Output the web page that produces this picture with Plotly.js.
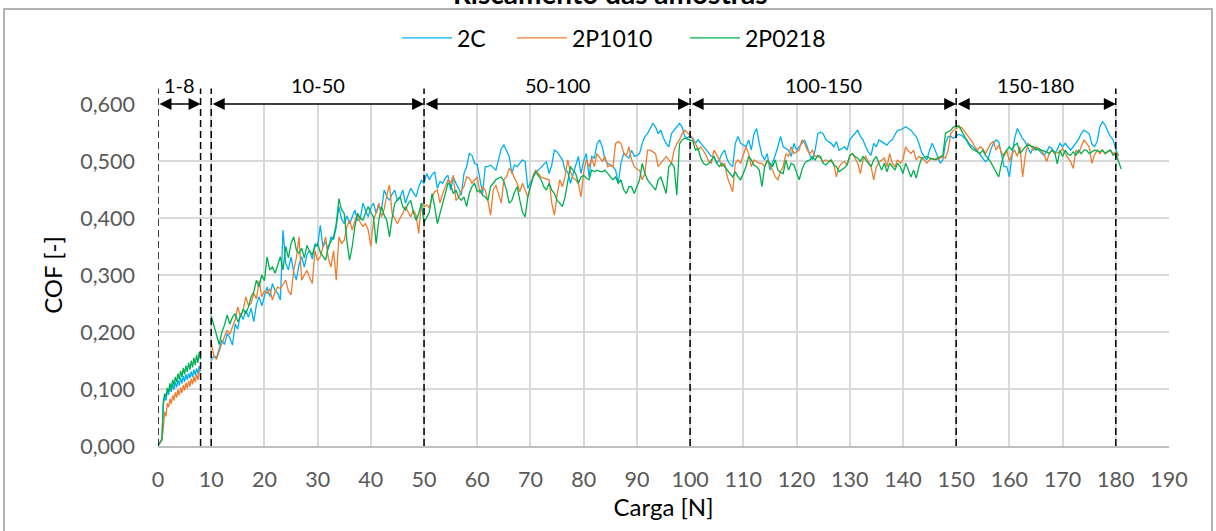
<!DOCTYPE html>
<html><head><meta charset="utf-8">
<script src="https://cdn.plot.ly/plotly-3.0.1.min.js"></script>
<style>html,body{margin:0;padding:0;background:#fff}#chart{width:1216px;height:531px}</style>
</head><body><div id="chart"></div>
<script>
// Carga [N] sample positions per test segment
const cargaA = [0,0.25,0.5,0.75,1,1.25,1.5,1.75,2,2.25,2.5,2.75,3,3.25,3.5,3.75,4,4.25,4.5,4.75,5,5.25,5.5,5.75,6,6.25,6.5,6.75,7,7.25,7.5,7.75,8];
const cargaB = [10,10.5,11,11.5,12,12.5,13,13.5,14,14.5,
15,15.5,16,16.5,17,17.5,18,18.5,19,19.5,
20,20.5,21,21.5,22,22.5,23,23.5,24,24.5,
25,25.5,26,26.5,27,27.5,28,28.5,29,29.5,
30,30.5,31,31.5,32,32.5,33,33.5,34,34.5,
35,35.5,36,36.5,37,37.5,38,38.5,39,39.5,
40,40.5,41,41.5,42,42.5,43,43.5,44,44.5,
45,45.5,46,46.5,47,47.5,48,48.5,49,49.5,
50];
const cargaC = [50.5,51,51.5,52,52.5,53,53.5,54,54.5,55,
55.5,56,56.5,57,57.5,58,58.5,59,59.5,60,
60.5,61,61.5,62,62.5,63,63.5,64,64.5,65,
65.5,66,66.5,67,67.5,68,68.5,69,69.5,70,
70.5,71,71.5,72,72.5,73,73.5,74,74.5,75,
75.5,76,76.5,77,77.5,78,78.5,79,79.5,80,
80.5,81,81.5,82,82.5,83,83.5,84,84.5,85,
85.5,86,86.5,87,87.5,88,88.5,89,89.5,90,
90.5,91,91.5,92,92.5,93,93.5,94,94.5,95,
95.5,96,96.5,97,97.5,98,98.5,99,99.5,100];
const cargaD = [100.5,101,101.5,102,102.5,103,103.5,104,104.5,105,
105.5,106,106.5,107,107.5,108,108.5,109,109.5,110,
110.5,111,111.5,112,112.5,113,113.5,114,114.5,115,
115.5,116,116.5,117,117.5,118,118.5,119,119.5,120,
120.5,121,121.5,122,122.5,123,123.5,124,124.5,125,
125.5,126,126.5,127,127.5,128,128.5,129,129.5,130,
130.5,131,131.5,132,132.5,133,133.5,134,134.5,135,
135.5,136,136.5,137,137.5,138,138.5,139,139.5,140,
140.5,141,141.5,142,142.5,143,143.5,144,144.5,145,
145.5,146,146.5,147,147.5,148,148.5,149,149.5,150];
const cargaE = [150.5,151,151.5,152,152.5,153,153.5,154,154.5,155,
155.5,156,156.5,157,157.5,158,158.5,159,159.5,160,
160.5,161,161.5,162,162.5,163,163.5,164,164.5,165,
165.5,166,166.5,167,167.5,168,168.5,169,169.5,170,
170.5,171,171.5,172,172.5,173,173.5,174,174.5,175,
175.5,176,176.5,177,177.5,178,178.5,179,179.5,180,
180.5,181];

// COF, series 2C
const cof2C_A = [0.000,0.004,0.008,0.012,0.072,0.086,0.080,0.096,0.090,0.103,0.095,0.108,0.099,0.112,0.103,0.116,0.106,0.120,0.110,0.123,0.113,0.126,0.116,0.128,0.119,0.131,0.121,0.134,0.124,0.136,0.127,0.140,0.131];
const cof2C_B = [0.150,0.158,0.155,0.172,0.186,0.178,0.197,0.190,0.177,0.214,
0.205,0.233,0.222,0.238,0.226,0.242,0.218,0.248,0.262,0.246,
0.265,0.279,0.262,0.285,0.272,0.268,0.256,0.379,0.320,0.309,
0.332,0.305,0.291,0.318,0.332,0.314,0.336,0.343,0.328,0.355,
0.350,0.387,0.349,0.358,0.345,0.367,0.362,0.384,0.420,0.398,
0.390,0.404,0.390,0.402,0.414,0.396,0.398,0.426,0.412,0.402,
0.418,0.426,0.408,0.422,0.414,0.449,0.438,0.431,0.442,0.449,
0.430,0.437,0.449,0.426,0.440,0.452,0.444,0.437,0.455,0.466,
0.461];
const cof2C_C = [0.478,0.467,0.476,0.481,0.452,0.464,0.461,0.470,0.475,0.449,
0.472,0.461,0.452,0.440,0.478,0.490,0.513,0.510,0.496,0.493,
0.470,0.443,0.490,0.490,0.493,0.488,0.484,0.502,0.522,0.528,
0.518,0.508,0.478,0.493,0.490,0.496,0.502,0.499,0.452,0.462,
0.472,0.481,0.484,0.490,0.494,0.499,0.478,0.493,0.519,0.516,
0.508,0.502,0.484,0.481,0.461,0.476,0.490,0.508,0.478,0.500,
0.513,0.472,0.508,0.505,0.530,0.537,0.525,0.502,0.496,0.493,
0.490,0.484,0.461,0.496,0.513,0.509,0.505,0.519,0.508,0.510,
0.513,0.531,0.543,0.548,0.558,0.566,0.560,0.548,0.554,0.540,
0.531,0.525,0.548,0.554,0.562,0.566,0.560,0.543,0.540,0.545];
const cof2C_D = [0.540,0.531,0.537,0.531,0.524,0.519,0.513,0.508,0.508,0.496,
0.502,0.513,0.519,0.502,0.494,0.490,0.531,0.543,0.531,0.528,
0.525,0.537,0.519,0.548,0.557,0.531,0.510,0.502,0.513,0.484,
0.496,0.510,0.525,0.543,0.525,0.522,0.519,0.508,0.531,0.519,
0.525,0.531,0.537,0.525,0.510,0.502,0.519,0.548,0.551,0.548,
0.538,0.534,0.531,0.525,0.534,0.519,0.522,0.525,0.519,0.537,
0.543,0.549,0.554,0.543,0.537,0.525,0.516,0.510,0.531,0.525,
0.537,0.534,0.531,0.528,0.534,0.537,0.546,0.554,0.554,0.557,
0.560,0.557,0.554,0.548,0.543,0.531,0.515,0.508,0.502,0.519,
0.531,0.520,0.508,0.496,0.502,0.531,0.543,0.543,0.540,0.543];
const cof2C_E = [0.547,0.545,0.541,0.537,0.530,0.526,0.522,0.517,0.511,0.505,
0.499,0.503,0.520,0.531,0.537,0.534,0.510,0.490,0.490,0.472,
0.510,0.540,0.557,0.548,0.539,0.533,0.522,0.513,0.525,0.522,
0.519,0.514,0.510,0.516,0.525,0.522,0.513,0.520,0.531,0.525,
0.531,0.525,0.519,0.525,0.531,0.538,0.548,0.554,0.551,0.548,
0.530,0.525,0.534,0.560,0.569,0.563,0.552,0.543,0.537,0.520,
0.510,null];

// COF, series 2P1010
const cof2P1010_A = [0.000,0.003,0.007,0.010,0.032,0.060,0.052,0.075,0.068,0.083,0.074,0.089,0.080,0.094,0.085,0.099,0.089,0.103,0.093,0.107,0.097,0.111,0.101,0.114,0.104,0.118,0.108,0.122,0.112,0.126,0.116,0.131,0.136];
const cof2P1010_B = [0.182,0.158,0.152,0.168,0.180,0.192,0.203,0.196,0.209,0.222,
0.244,0.227,0.238,0.262,0.246,0.250,0.268,0.258,0.290,0.262,
0.272,0.268,0.276,0.256,0.270,0.279,0.276,0.284,0.291,0.272,
0.265,0.308,0.330,0.367,0.291,0.300,0.308,0.295,0.285,0.343,
0.325,0.332,0.350,0.367,0.330,0.314,0.343,0.291,0.367,0.355,
0.361,0.385,0.396,0.379,0.395,0.408,0.392,0.385,0.390,0.379,
0.350,0.396,0.410,0.426,0.402,0.415,0.440,0.458,0.408,0.398,
0.390,0.400,0.408,0.420,0.410,0.402,0.414,0.405,0.373,0.426,
0.420];
const cof2P1010_C = [0.423,0.418,0.436,0.446,0.449,0.426,0.443,0.455,0.467,0.461,
0.475,0.431,0.436,0.448,0.455,0.472,0.470,0.461,0.466,0.472,
0.443,0.455,0.449,0.430,0.405,0.449,0.458,0.440,0.426,0.467,
0.472,0.487,0.481,0.470,0.461,0.446,0.461,0.449,0.437,0.455,
0.475,0.484,0.478,0.472,0.470,0.468,0.467,0.426,0.405,0.440,
0.467,0.455,0.472,0.502,0.481,0.470,0.467,0.461,0.437,0.480,
0.502,0.490,0.505,0.490,0.513,0.506,0.499,0.508,0.490,0.492,
0.490,0.531,0.534,0.531,0.515,0.508,0.525,0.502,0.490,0.486,
0.484,0.467,0.478,0.519,0.519,0.516,0.513,0.490,0.496,0.504,
0.508,0.502,0.496,0.519,0.530,0.537,0.548,0.554,0.550,0.545];
const cof2P1010_D = [0.538,0.531,0.519,0.525,0.518,0.510,0.499,0.496,0.519,0.510,
0.502,0.490,0.496,0.472,0.458,0.446,0.496,0.502,0.496,0.512,
0.525,0.513,0.490,0.502,0.499,0.496,0.496,0.490,0.502,0.494,
0.484,0.472,0.467,0.482,0.490,0.513,0.508,0.525,0.513,0.516,
0.519,0.537,0.531,0.520,0.513,0.519,0.508,0.508,0.505,0.499,
0.502,0.500,0.499,0.496,0.472,0.490,0.496,0.499,0.493,0.508,
0.513,0.505,0.496,0.478,0.502,0.508,0.500,0.490,0.467,0.490,
0.498,0.502,0.505,0.490,0.513,0.495,0.490,0.502,0.496,0.502,
0.525,0.518,0.513,0.519,0.502,0.508,0.505,0.502,0.496,0.502,
0.505,0.503,0.502,0.505,0.508,0.505,0.520,0.548,0.554,0.557];
const cof2P1010_E = [0.559,0.559,0.553,0.546,0.541,0.534,0.525,0.519,0.525,0.522,
0.513,0.522,0.531,0.534,0.519,0.528,0.515,0.508,0.519,0.499,
0.512,0.519,0.508,0.525,0.472,0.510,0.531,0.527,0.519,0.525,
0.522,0.518,0.512,0.499,0.513,0.519,0.513,0.515,0.516,0.522,
0.513,0.505,0.499,0.487,0.519,0.513,0.525,0.537,0.531,0.525,
0.496,0.510,0.519,0.513,0.519,0.513,0.516,0.519,0.513,0.516,
0.508,null];

// COF, series 2P0218
const cof2P0218_A = [0.000,0.004,0.008,0.013,0.078,0.092,0.086,0.102,0.095,0.110,0.101,0.116,0.107,0.121,0.112,0.127,0.117,0.132,0.121,0.137,0.126,0.141,0.130,0.146,0.134,0.150,0.138,0.155,0.142,0.160,0.146,0.165,0.152];
const cof2P0218_B = [0.228,0.212,0.197,0.178,0.200,0.212,0.230,0.214,0.226,0.232,
0.218,0.227,0.240,0.232,0.244,0.262,0.270,0.291,0.279,0.300,
0.290,0.332,0.309,0.314,0.303,0.318,0.332,0.309,0.350,0.330,
0.355,0.367,0.344,0.338,0.347,0.330,0.352,0.341,0.336,0.350,
0.355,0.340,0.332,0.326,0.350,0.358,0.367,0.390,0.434,0.414,
0.408,0.360,0.326,0.350,0.385,0.408,0.400,0.396,0.410,0.420,
0.410,0.402,0.355,0.396,0.420,0.405,0.396,0.367,0.400,0.426,
0.432,0.437,0.420,0.414,0.425,0.431,0.410,0.396,0.408,0.426,
0.392];
const cof2P0218_C = [0.402,0.410,0.443,0.420,0.390,0.408,0.426,0.448,0.461,0.458,
0.443,0.449,0.436,0.431,0.437,0.420,0.443,0.455,0.461,0.446,
0.449,0.440,0.437,0.431,0.455,0.461,0.467,0.470,0.472,0.464,
0.449,0.426,0.431,0.445,0.455,0.431,0.410,0.402,0.437,0.455,
0.472,0.481,0.475,0.467,0.455,0.449,0.461,0.449,0.443,0.431,
0.426,0.420,0.437,0.461,0.490,0.484,0.478,0.461,0.472,0.475,
0.470,0.467,0.484,0.481,0.484,0.482,0.481,0.484,0.478,0.472,
0.467,0.472,0.461,0.467,0.450,0.443,0.455,0.455,0.443,0.455,
0.467,0.496,0.478,0.467,0.460,0.455,0.449,0.467,0.472,0.458,
0.443,0.490,0.496,0.490,0.440,0.530,0.537,0.540,0.538,0.537];
const cof2P0218_D = [0.535,0.519,0.522,0.505,0.496,0.493,0.495,0.502,0.508,0.496,
0.490,0.496,0.490,0.484,0.476,0.472,0.481,0.472,0.467,0.478,
0.490,0.508,0.502,0.493,0.490,0.484,0.455,0.490,0.500,0.496,
0.490,0.502,0.484,0.480,0.478,0.502,0.484,0.496,0.493,0.480,
0.467,0.484,0.496,0.500,0.502,0.508,0.502,0.510,0.508,0.496,
0.493,0.498,0.502,0.493,0.490,0.481,0.484,0.488,0.493,0.510,
0.513,0.508,0.505,0.499,0.508,0.502,0.496,0.490,0.502,0.508,
0.495,0.484,0.496,0.481,0.496,0.490,0.484,0.496,0.490,0.478,
0.496,0.485,0.472,0.484,0.470,0.490,0.505,0.506,0.508,0.505,
0.503,0.502,0.505,0.508,0.510,0.549,0.552,0.554,0.560,0.560];
const cof2P0218_E = [0.562,0.553,0.545,0.535,0.527,0.521,0.519,0.516,0.513,0.519,
0.510,0.505,0.498,0.490,0.480,0.472,0.495,0.512,0.519,0.525,
0.519,0.528,0.531,0.513,0.519,0.525,0.528,0.527,0.525,0.519,
0.522,0.519,0.518,0.516,0.513,0.519,0.516,0.495,0.519,0.508,
0.519,0.512,0.510,0.516,0.510,0.519,0.513,0.519,0.519,0.513,
0.516,0.519,0.518,0.516,0.519,0.513,0.517,0.519,0.510,0.513,
0.500,0.486];

const seriesNames = ['2C', '2P1010', '2P0218'];
const seriesColors = ['#00B0F0', '#ED7D31', '#00B050'];
const limites = [0, 8, 10, 50, 100, 150, 180];
const faixaInicio = [0, 10, 50, 100, 150];
const faixaFim = [8, 50, 100, 150, 180];
const faixaRotulo = ['1-8', '10-50', '50-100', '100-150', '150-180'];
const tituloGrafico = 'Riscamento das amostras';

const carga = [...cargaA, null, ...cargaB, ...cargaC, ...cargaD, ...cargaE];
const seriesY = [
  [...cof2C_A, null, ...cof2C_B, ...cof2C_C, ...cof2C_D, ...cof2C_E],
  [...cof2P1010_A, null, ...cof2P1010_B, ...cof2P1010_C, ...cof2P1010_D, ...cof2P1010_E],
  [...cof2P0218_A, null, ...cof2P0218_B, ...cof2P0218_C, ...cof2P0218_D, ...cof2P0218_E]
];

const FONT = 'Lato, "Open Sans", sans-serif';
const legendIds = ['legend', 'legend2', 'legend3'];
const legendX = [0.2364, 0.3501, 0.5213];

const traces = seriesNames.map((n, i) => ({
  type: 'scatter', mode: 'lines', name: n,
  x: carga, y: seriesY[i],
  line: {color: seriesColors[i], width: 1.3},
  connectgaps: false,
  legend: legendIds[i]
}));

const shapes = limites.map(v => ({
  type: 'line', xref: 'x', yref: 'paper', x0: v, x1: v, y0: 0, y1: 1.045,
  line: {color: '#000', width: 1.5, dash: '7px,4px'}, layer: 'above'
}));
shapes.push({
  type: 'rect', xref: 'paper', yref: 'paper', x0: -0.1523, x1: 1.0425, y0: -0.3, y1: 1.2778,
  line: {color: '#9a9a9a', width: 1.5}, fillcolor: 'rgba(0,0,0,0)', layer: 'below'
});

const annotations = [];
faixaInicio.forEach((a, i) => {
  const b = faixaFim[i];
  annotations.push({
    x: b, y: 0.6, xref: 'x', yref: 'y', ax: a, ay: 0.6, axref: 'x', ayref: 'y',
    text: '', showarrow: true, arrowside: 'end+start', arrowhead: 2, startarrowhead: 2,
    arrowsize: 1.6, startarrowsize: 1.6, arrowwidth: 1.5, arrowcolor: '#000',
    standoff: 0, startstandoff: 0
  });
  annotations.push({
    x: (a + b) / 2, y: 0.6, xref: 'x', yref: 'y', text: faixaRotulo[i], showarrow: false,
    yanchor: 'bottom', yshift: 5, font: {family: FONT, size: 20, color: '#000'}
  });
});
// chart title (cut by the top edge as in the reference)
annotations.push({
  x: 0.4476, xref: 'paper', y: 1.3246, yref: 'paper', yanchor: 'middle', xanchor: 'center',
  text: '<b>' + tituloGrafico + '</b>', showarrow: false,
  font: {family: FONT, size: 28, color: '#000'}
});

const layout = {
  width: 1216, height: 531,
  margin: {l: 158, r: 47, t: 104, b: 85},
  paper_bgcolor: '#fff', plot_bgcolor: '#fff',
  separators: ',.',
  font: {family: FONT, color: '#000'},
  showlegend: true,
  xaxis: {range: [0, 190], dtick: 10, tick0: 0, showgrid: true, gridcolor: '#d9d9d9', gridwidth: 1.5,
          zeroline: false, showline: true, linecolor: '#bfbfbf', linewidth: 1.5, ticks: '',
          ticklabelstandoff: 13,
          tickfont: {family: FONT, size: 21.5, color: '#595959'},
          title: {text: 'Carga [N]', font: {family: FONT, size: 24, color: '#000'}, standoff: 8}},
  yaxis: {range: [0, 0.6], dtick: 0.1, tick0: 0, tickformat: '.3f', showgrid: true, gridcolor: '#d9d9d9', gridwidth: 1.5,
          zeroline: false, showline: false, ticks: '', ticklabelstandoff: 22,
          tickfont: {family: FONT, size: 21.5, color: '#595959'},
          title: {text: 'COF [-]', font: {family: FONT, size: 24, color: '#000'}, standoff: 10}},
  shapes: shapes,
  annotations: annotations
};
legendIds.forEach((id, i) => {
  layout[id] = {orientation: 'h', x: legendX[i], xanchor: 'left', y: 1.193, yanchor: 'middle',
                itemwidth: 50, bgcolor: 'rgba(0,0,0,0)',
                font: {family: FONT, size: 23, color: '#000'}};
});

Plotly.newPlot('chart', traces, layout, {displayModeBar: false, responsive: false});
</script>
</body></html>
